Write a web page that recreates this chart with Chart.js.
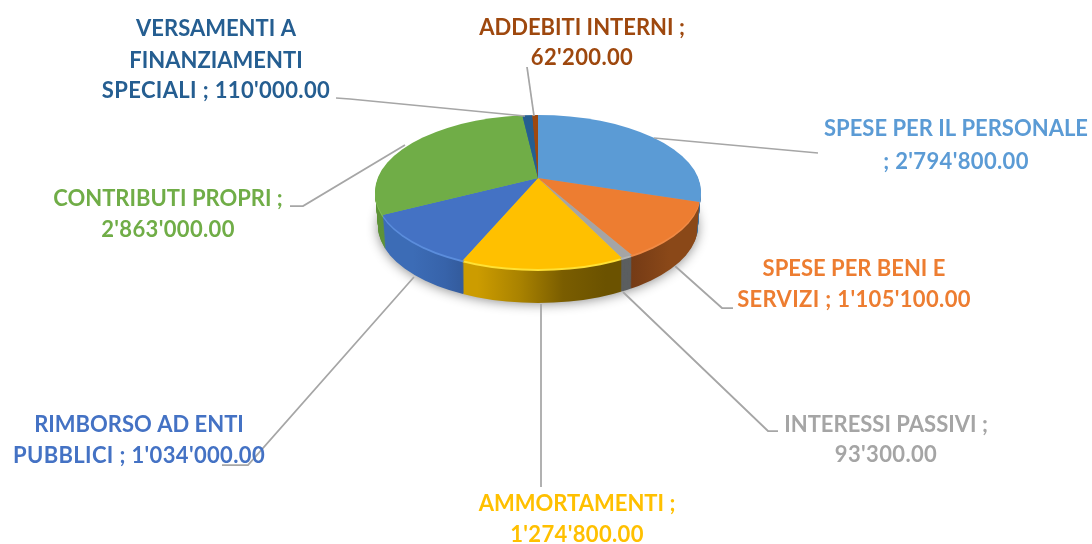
<!DOCTYPE html>
<html>
<head>
<meta charset="utf-8">
<style>
  html, body { margin: 0; padding: 0; background: #fff; }
  #wrap { width: 1092px; height: 544px; }
</style>
<script src="https://cdn.jsdelivr.net/npm/chart.js@4"></script>
</head>
<body>
<div id="wrap"><canvas id="pie" width="1092" height="544"></canvas></div>
<script>
const categories = ['SPESE PER IL PERSONALE', 'SPESE PER BENI E SERVIZI', 'INTERESSI PASSIVI', 'AMMORTAMENTI',
  'RIMBORSO AD ENTI PUBBLICI', 'CONTRIBUTI PROPRI', 'VERSAMENTI A FINANZIAMENTI SPECIALI', 'ADDEBITI INTERNI'];
const values = [2794800, 1105100, 93300, 1274800, 1034000, 2863000, 110000, 62200];
const colors = ['#5B9BD5', '#ED7D31', '#A5A5A5', '#FFC000', '#4472C4', '#70AD47', '#255E91', '#9E480E'];

// testo delle etichette, riga per riga
const labelLines = [
  ['SPESE PER IL PERSONALE', "; 2'794'800.00"],
  ['SPESE PER BENI E', "SERVIZI ; 1'105'100.00"],
  ['INTERESSI PASSIVI ;', "93'300.00"],
  ['AMMORTAMENTI ;', "1'274'800.00"],
  ['RIMBORSO AD ENTI', "PUBBLICI ; 1'034'000.00"],
  ['CONTRIBUTI PROPRI ;', "2'863'000.00"],
  ['VERSAMENTI A', 'FINANZIAMENTI', "SPECIALI ; 110'000.00"],
  ['ADDEBITI INTERNI ;', "62'200.00"]
];

// layout etichette: centro x e centro y di ogni riga
const labelX = [956, 854, 886, 577, 139, 168, 216, 582];
const labelY = [[129, 162], [269, 300], [425, 455], [504, 535], [425, 456], [199, 230], [29, 61, 91], [28, 58]];
const leaders = [
  [[654, 138], [818, 153]],
  [[675, 266], [722, 308], [733, 308]],
  [[623, 292], [768, 431], [778, 431]],
  [[541, 304], [541, 487]],
  [[414, 277], [248, 465], [222, 465]],
  [[405, 145], [303, 206], [290, 206]],
  [[525, 116], [350, 99], [336, 98]],
  [[534, 116], [527, 67]]
];

// finta prospettiva 3D: il vertice sta sopra il centro dell'ellisse
const apex = { x: 538, y: 178, rx: 163, ry: 76 };
const rim = { x: 538, y: 192, rx: 163, ry: 77 };
const depth = 34;

function hGrad(ctx, x0, x1, stops) {
  const g = ctx.createLinearGradient(x0, 0, x1, 0);
  stops.forEach((c, i) => g.addColorStop(i / (stops.length - 1), c));
  return g;
}

function wallColors(ctx) {
  return [
    '#3f6f9c',
    hGrad(ctx, 630, 700, ['#6b3615', '#7a3e16', '#8a4818']),
    '#5c5f60',
    hGrad(ctx, 463, 622, ['#cc9c00', '#a98200', '#7a5d00', '#6b5200']),
    hGrad(ctx, 383, 463, ['#3c6cb6', '#3763aa', '#305592']),
    '#5f9339',
    '#1c4769',
    '#70330a'
  ];
}

function drawLayer(chart, arcs, dy, shrink, fills) {
  const ctx = chart.ctx;
  const big = 1.35;
  const first = arcs[0];
  ctx.save();
  ctx.beginPath();
  ctx.ellipse(rim.x, rim.y + dy, rim.rx - shrink, rim.ry, 0, 0, Math.PI * 2);
  ctx.clip();
  ctx.translate(apex.x, apex.y + dy);
  ctx.scale(apex.rx * big / first.outerRadius, apex.ry * big / first.outerRadius);
  ctx.translate(-first.x, -first.y);
  arcs.forEach((arc, i) => {
    const o = arc.options;
    if (fills) arc.options = Object.assign({}, o, { backgroundColor: fills[i] });
    arc.draw(ctx);
    arc.options = o;
  });
  ctx.restore();
}

const pie3d = {
  id: 'pie3d',
  beforeDatasetsDraw(chart) {
    const ctx = chart.ctx;
    const arcs = chart.getDatasetMeta(0).data;

    // ombra morbida sotto la torta
    ctx.save();
    ctx.shadowColor = 'rgba(0,0,0,0.45)';
    ctx.shadowBlur = 12;
    ctx.shadowOffsetY = 2;
    ctx.fillStyle = '#888';
    ctx.beginPath();
    ctx.ellipse(rim.x, rim.y + depth - 1, rim.rx - 3, rim.ry, 0, 0, Math.PI * 2);
    ctx.fill();
    ctx.restore();

    const walls = wallColors(ctx);
    for (let d = depth; d > 0; d--) {
      drawLayer(chart, arcs, d, 3 * d / depth, walls);
    }
    // bordino chiaro sul bordo anteriore
    drawLayer(chart, arcs, 2, 0, ['#6fa8dc', '#f08a45', '#b5b5b5', '#ffe135', '#5b8ddc', '#80bd55', '#2f6ea6', '#ad5416']);
    drawLayer(chart, arcs, 0, 0, null);
    return false;
  },
  afterDraw(chart) {
    const ctx = chart.ctx;
    ctx.save();
    ctx.strokeStyle = '#a6a6a6';
    ctx.lineWidth = 1.75;
    leaders.forEach(pts => {
      ctx.beginPath();
      pts.forEach((p, i) => i ? ctx.lineTo(p[0], p[1]) : ctx.moveTo(p[0], p[1]));
      ctx.stroke();
    });
    ctx.font = 'bold 22px Lato';
    ctx.textAlign = 'center';
    ctx.textBaseline = 'middle';
    labelLines.forEach((lines, i) => {
      ctx.fillStyle = colors[i];
      lines.forEach((t, j) => {
        ctx.letterSpacing = /\d/.test(t) ? '0.35px' : '0px'; // le cifre in Lato sono un po' strette
        ctx.fillText(t, labelX[i], labelY[i][j]);
      });
    });
    ctx.restore();
  }
};

new Chart(document.getElementById('pie'), {
  type: 'pie',
  data: {
    labels: categories,
    datasets: [{ data: values, backgroundColor: colors, borderWidth: 0 }]
  },
  options: {
    responsive: false,
    animation: false,
    layout: { padding: { right: 16 } },
    plugins: { legend: { display: false }, tooltip: { enabled: false } }
  },
  plugins: [pie3d]
});
</script>
</body>
</html>
